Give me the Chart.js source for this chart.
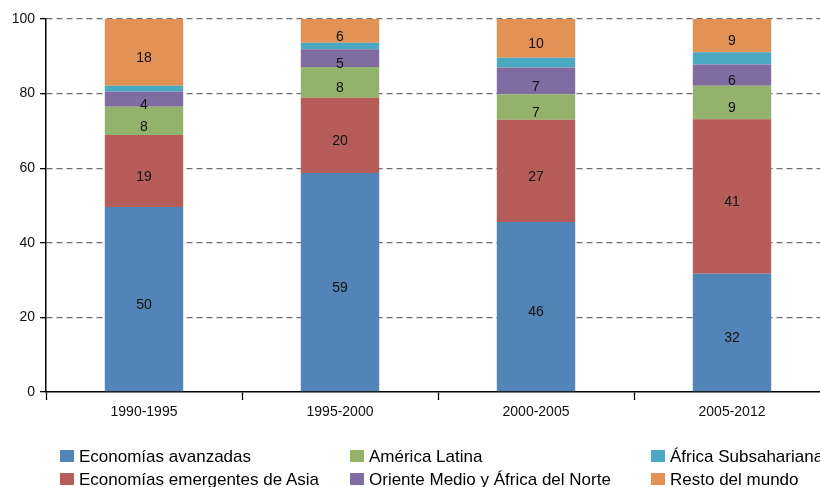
<!DOCTYPE html>
<html>
<head>
<meta charset="utf-8">
<script src="https://cdn.jsdelivr.net/npm/chart.js@4.4.1/dist/chart.umd.min.js"></script>
<style>
body { margin:0; width:820px; height:487px; overflow:hidden; background:#fff; font-family:'Liberation Sans', Arial, sans-serif; }
#wrap { position:absolute; left:0; top:0; width:830px; height:432px; }
#legend { position:absolute; left:0; top:0; width:830px; height:487px; }
.sw { position:absolute; width:14px; height:12px; }
.lt { position:absolute; font-size:17px; line-height:17px; white-space:nowrap; color:#000; }
</style>
</head>
<body>
<div id="wrap"><canvas id="chart" width="830" height="432"></canvas></div>
<div id="legend"></div>
<script>
const periods = ['1990-1995', '1995-2000', '2000-2005', '2005-2012'];
const seriesNames = ['Economías avanzadas', 'Economías emergentes de Asia', 'América Latina',
  'Oriente Medio y África del Norte', 'África Subsahariana', 'Resto del mundo'];
const avanzadas = [49.6, 58.7, 45.6, 31.7];
const asia = [19.3, 20.2, 27.4, 41.4];
const latina = [7.6, 8.2, 6.8, 9.0];
const orienteMedio = [4.0, 4.8, 7.2, 5.7];
const subsahariana = [1.6, 1.7, 2.6, 3.3];
const resto = [17.9, 6.4, 10.4, 8.9];
const yTicks = [0, 20, 40, 60, 80, 100];
const colors = ['#5284b8', '#b65d5a', '#93b26b', '#806ca0', '#4aa8c0', '#e39256'];

const seriesValues = [avanzadas, asia, latina, orienteMedio, subsahariana, resto];

// numbers inside the segments, small ones left out
const segmentLabels = {
  id: 'segmentLabels',
  afterDatasetsDraw(chart) {
    const ctx = chart.ctx;
    ctx.save();
    ctx.font = '14px "Liberation Sans", Arial, sans-serif';
    ctx.fillStyle = '#111';
    ctx.textAlign = 'center';
    ctx.textBaseline = 'middle';
    chart.data.datasets.forEach((ds, i) => {
      chart.getDatasetMeta(i).data.forEach((bar, j) => {
        const v = ds.data[j];
        if (v < 3.5) return;
        ctx.fillText(Math.round(v), bar.x, (bar.y + bar.base) / 2 + 6);
      });
    });
    ctx.restore();
  }
};

new Chart(document.getElementById('chart'), {
  type: 'bar',
  data: {
    labels: periods,
    datasets: seriesNames.map((name, i) => ({
      label: name,
      data: seriesValues[i],
      backgroundColor: colors[i],
      borderWidth: 0,
      categoryPercentage: 1,
      barPercentage: 0.4
    }))
  },
  options: {
    responsive: false,
    animation: false,
    layout: { padding: { top: 19, left: 0, right: 0, bottom: 0 } },
    plugins: { legend: { display: false }, tooltip: { enabled: false } },
    scales: {
      x: {
        stacked: true,
        afterFit: s => { s.height = 40; },
        grid: { offset: true, drawOnChartArea: false, tickLength: 8, tickColor: '#000', tickWidth: 1.3 },
        border: { color: '#000', width: 1.5 },
        ticks: { color: '#111', padding: 4, font: { size: 14, family: '"Liberation Sans", Arial, sans-serif' } }
      },
      y: {
        stacked: true,
        min: 0,
        max: 100,
        afterFit: s => { s.width = 46; },
        afterBuildTicks: s => { s.ticks = yTicks.map(v => ({ value: v })); },
        grid: {
          color: c => c.tick && c.tick.value === 0 ? 'rgba(0,0,0,0)' : '#6f6f6f',
          lineWidth: 1.3,
          tickLength: 6,
          tickColor: '#000',
          tickBorderDash: []
        },
        border: { color: '#000', width: 1.5, dash: [6, 4] },
        ticks: { color: '#111', padding: 5, font: { size: 14, family: '"Liberation Sans", Arial, sans-serif' } }
      }
    }
  },
  plugins: [segmentLabels]
});

// legend in three columns, two rows
const legend = document.getElementById('legend');
const colX = [60, 350, 651];
const rowY = [450, 473];
seriesNames.forEach((name, i) => {
  const x = colX[Math.floor(i / 2)];
  const y = rowY[i % 2];
  const sw = document.createElement('span');
  sw.className = 'sw';
  sw.style.left = x + 'px';
  sw.style.top = y + 'px';
  sw.style.background = colors[i];
  legend.appendChild(sw);
  const t = document.createElement('span');
  t.className = 'lt';
  t.style.left = (x + 19) + 'px';
  t.style.top = (y - 2) + 'px';
  t.textContent = name;
  legend.appendChild(t);
});
</script>
</body>
</html>
